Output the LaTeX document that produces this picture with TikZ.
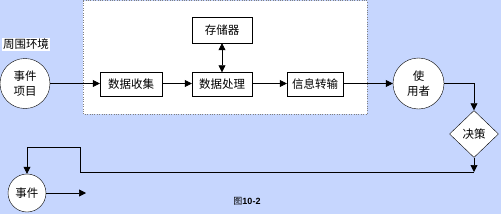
\documentclass[tikz,border=0pt]{standalone}
\usepackage{fontspec}
\newfontfamily\cjk{Noto Sans CJK SC}
\newfontfamily\arialf{Liberation Sans}
\usetikzlibrary{shapes.geometric,arrows.meta}
\definecolor{bg}{RGB}{198,214,254}
\begin{document}
\begin{tikzpicture}[x=1pt,y=-1pt,
  font=\cjk\fontsize{11.5}{14}\selectfont,
  box/.style={draw, fill=white, minimum width=62pt, minimum height=24pt, inner sep=1pt},
  circ/.style={circle, draw, fill=white, inner sep=0pt, align=center},
  arr/.style={-{Triangle[length=7pt,width=7pt]}},
  ln/.style={line width=0.7pt}]
\fill[bg] (0,0) rectangle (501,214);
\useasboundingbox (0,0) rectangle (501,214);
\draw[gray, dotted, fill=white] (83,0.5) rectangle (367,114);
\node[fill=white, inner sep=1pt] (env) at (26,44.5) {周围环境};
\node[circ, minimum size=50pt, font=\cjk\fontsize{11.5}{15}\selectfont] (evt) at (25,83.5) {事件\\项目};
\node[box] (collect) at (131,84.5) {数据收集};
\node[box, minimum width=60pt] (proc) at (222,84.5) {数据处理};
\node[box, minimum width=60pt, minimum height=26pt] (store) at (222,30) {存储器};
\node[box, minimum width=56pt] (trans) at (315,84.5) {信息转输};
\node[circ, minimum size=51pt, font=\cjk\fontsize{11.5}{15}\selectfont] (user) at (418.5,83.5) {使\\用者};
\node[diamond, draw, fill=white, minimum width=49pt, minimum height=47pt, inner sep=0pt] (dec) at (474,134) {决策};
\node[circ, minimum size=38pt] (ev2) at (27,193) {事件};
\node[inner sep=0pt] (cap) at (247,201) {\fontsize{9}{10}\selectfont 图\arialf\bfseries 10-2};
\coordinate (j1) at (474,172);
\coordinate (b1) at (80,172);
\coordinate (b2) at (80,147);
\coordinate (out) at (86,193);
\draw[ln, arr] (evt.east) -- (collect.west |- evt.east);
\draw[ln, arr] (collect.east |- evt.east) -- (proc.west |- evt.east);
\draw[ln, arr] (proc.east |- evt.east) -- (trans.west |- evt.east);
\draw[ln, arr] (trans.east |- evt.east) -- (user.west);
\draw[ln, {Triangle[length=7pt,width=7pt]}-{Triangle[length=7pt,width=7pt]}] (store.south) -- (proc.north);
\draw[ln, arr] (user.east) -| (dec.north);
\draw[ln, arr] (dec.south) -- (j1);
\draw[ln, arr] (j1) -- (b1) -- (b2) -| (ev2.north);
\draw[ln, arr] (ev2.east) -- (out);
\end{tikzpicture}
\end{document}
